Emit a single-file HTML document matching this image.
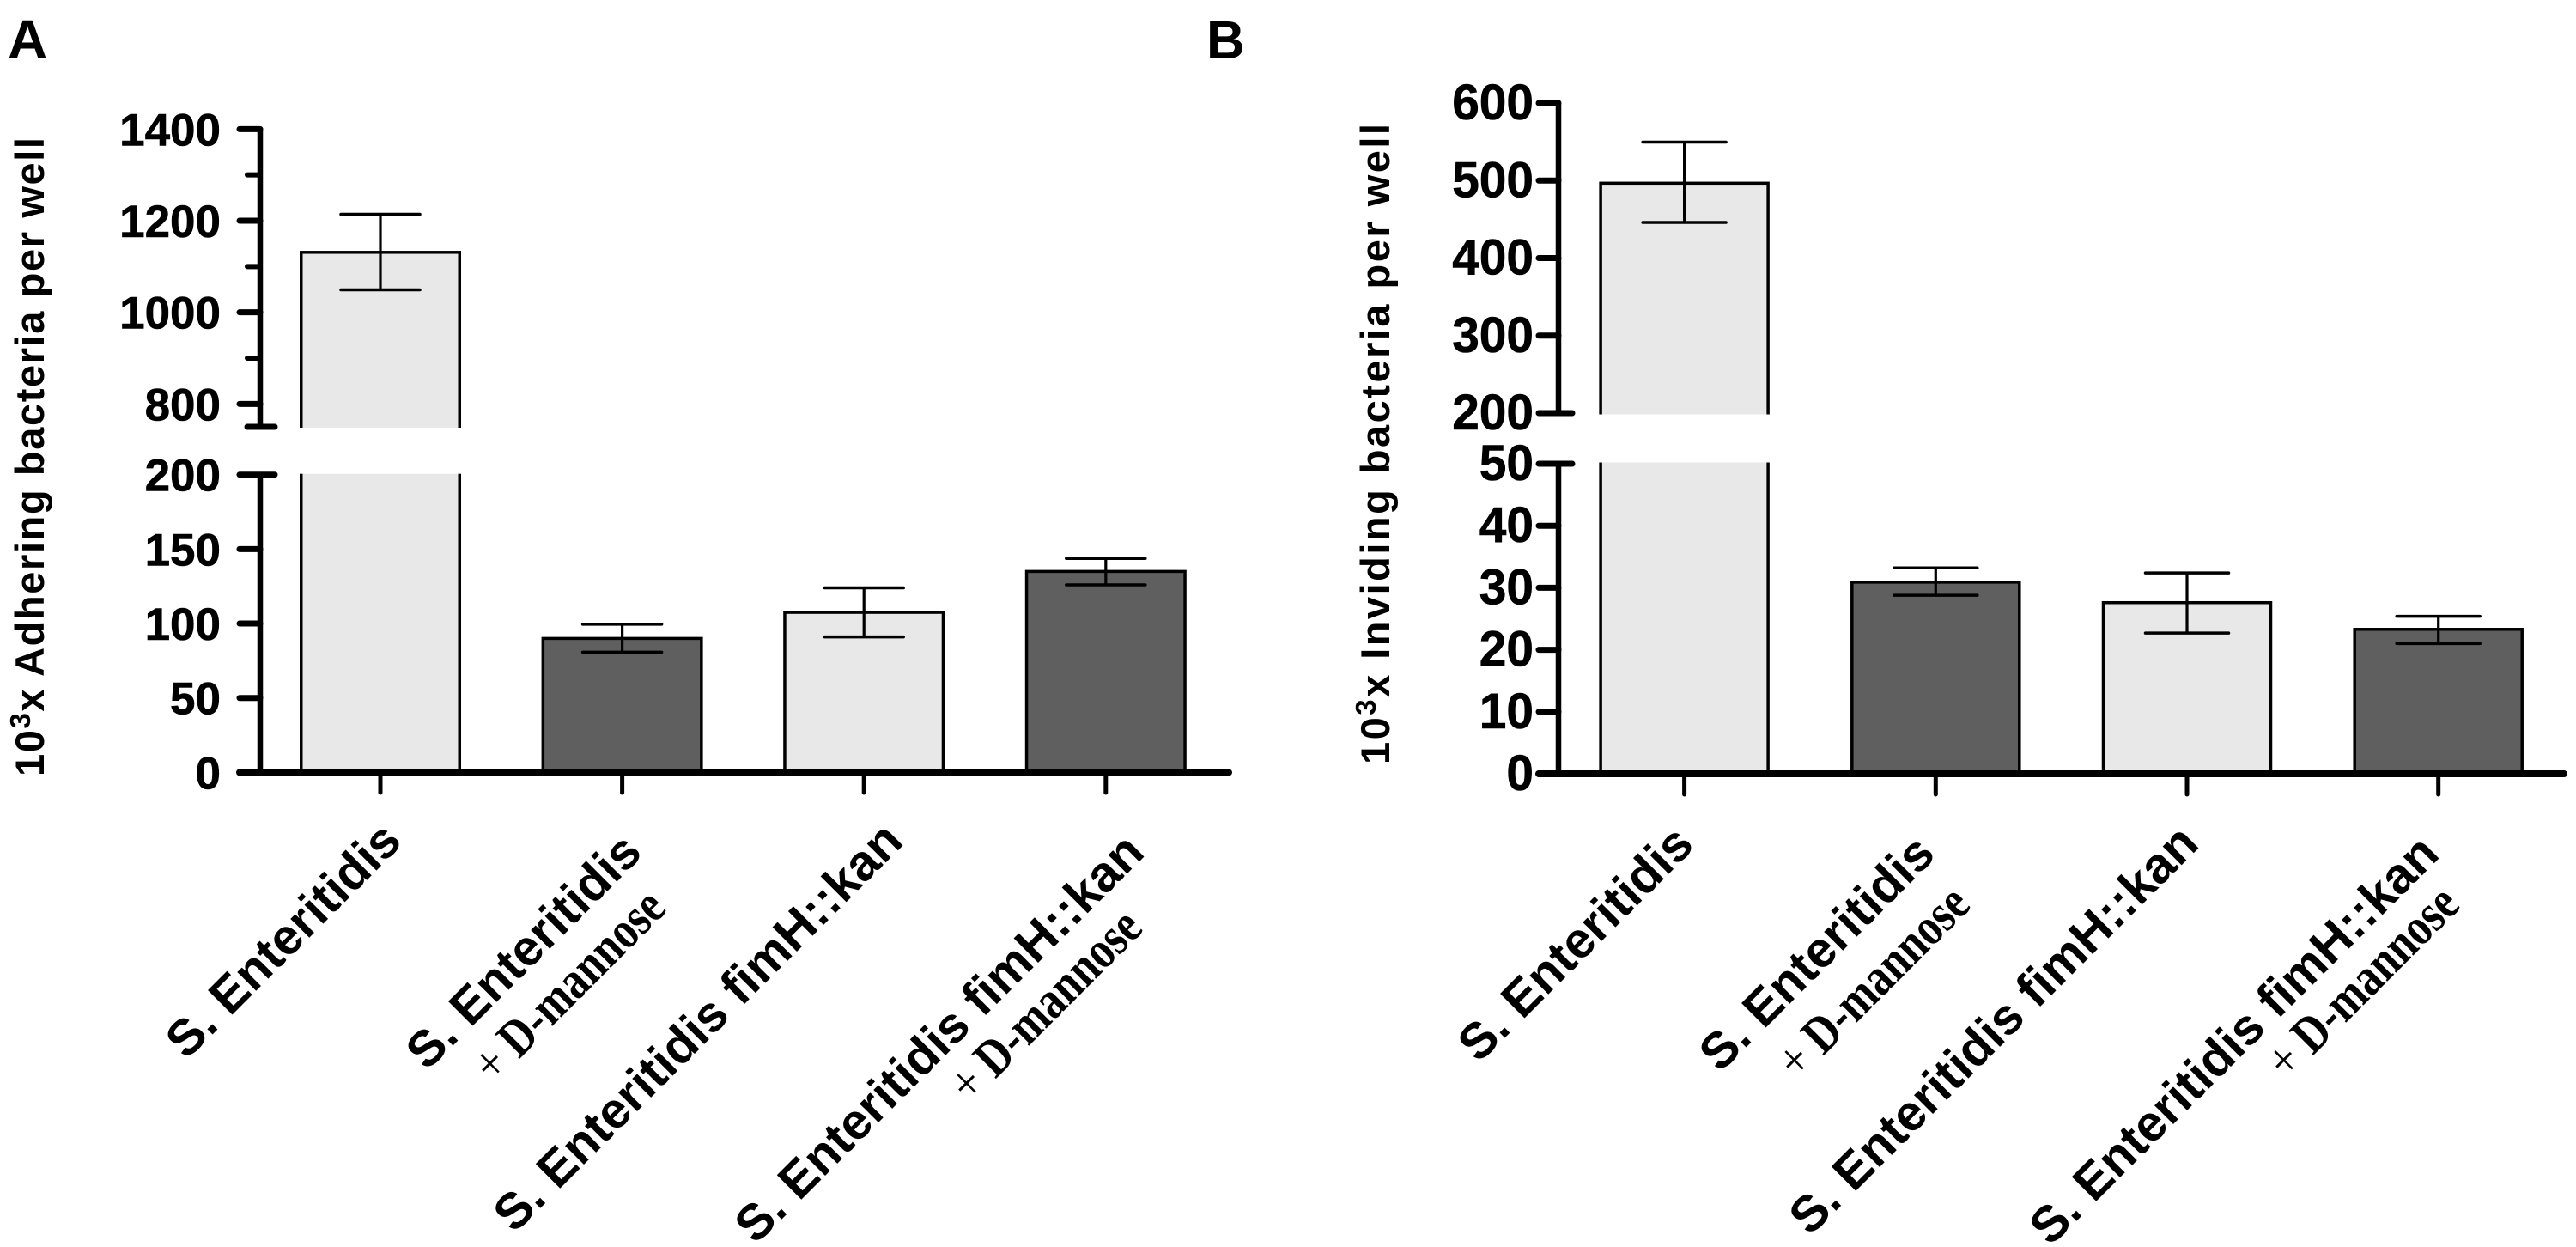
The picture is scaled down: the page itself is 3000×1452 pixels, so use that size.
<!DOCTYPE html>
<html lang="en">
<head>
<meta charset="utf-8">
<title>Adhering and invading bacteria per well</title>
<style>
html,body{margin:0;padding:0;background:#fff;}
svg{display:block;font-family:"Liberation Sans",sans-serif;}
text{fill:#000;font-weight:bold;}
</style>
</head>
<body>
<svg id="figure" xmlns="http://www.w3.org/2000/svg" width="3000" height="1452" viewBox="0 0 3000 1452">
  <rect x="0" y="0" width="3000" height="1452" fill="#ffffff"/>
  <text x="9" y="68" font-size="64">A</text>
  <text x="1405" y="68" font-size="62">B</text>
  <text transform="translate(51,904) rotate(-90)" font-size="47" textLength="744" lengthAdjust="spacing">10<tspan font-size="33" dy="-16">3</tspan><tspan dy="16">x Adhering bacteria per well</tspan></text>
  <text transform="translate(1618,890) rotate(-90)" font-size="47" textLength="746" lengthAdjust="spacing">10<tspan font-size="33" dy="-16">3</tspan><tspan dy="16">x Inviding bacteria per well</tspan></text>
  <g id="panel-a"></g>
  <g id="panel-b"></g>
  <g font-size="58.5">
    <text transform="translate(470,982) rotate(-45)" text-anchor="end">S. Enteritidis</text>
    <text transform="translate(750,995) rotate(-45)" text-anchor="end">S. Enteritidis</text>
    <text transform="translate(778,1060) rotate(-45) scale(0.82,1)" text-anchor="end" font-size="62" font-family="Liberation Serif"><tspan font-weight="normal">+</tspan> D-mannose</text>
    <text transform="translate(1054,982) rotate(-45)" text-anchor="end">S. Enteritidis fimH::kan</text>
    <text transform="translate(1335,995) rotate(-45)" text-anchor="end">S. Enteritidis fimH::kan</text>
    <text transform="translate(1333,1083) rotate(-45) scale(0.82,1)" text-anchor="end" font-size="62" font-family="Liberation Serif"><tspan font-weight="normal">+</tspan> D-mannose</text>
  </g>
  <g font-size="58.5">
    <text transform="translate(1975,986) rotate(-45)" text-anchor="end">S. Enteritidis</text>
    <text transform="translate(2256,997) rotate(-45)" text-anchor="end">S. Enteritidis</text>
    <text transform="translate(2297,1056) rotate(-45) scale(0.82,1)" text-anchor="end" font-size="62" font-family="Liberation Serif"><tspan font-weight="normal">+</tspan> D-mannose</text>
    <text transform="translate(2563,985) rotate(-45)" text-anchor="end">S. Enteritidis fimH::kan</text>
    <text transform="translate(2843,997) rotate(-45)" text-anchor="end">S. Enteritidis fimH::kan</text>
    <text transform="translate(2867,1056) rotate(-45) scale(0.82,1)" text-anchor="end" font-size="62" font-family="Liberation Serif"><tspan font-weight="normal">+</tspan> D-mannose</text>
  </g>
</svg>
<script>
// Panel A data
const aCategories = ["S. Enteritidis", "S. Enteritidis + D-mannose", "S. Enteritidis fimH::kan", "S. Enteritidis fimH::kan + D-mannose"];
const aMeans = [1131, 90, 107.5, 135];
const aErrHigh = [1214, 99.5, 124, 143.7];
const aErrLow = [1049, 80.8, 91, 126];
const aLowerTicks = [0, 50, 100, 150, 200];
const aUpperTicks = [800, 1000, 1200, 1400];
const aUpperMinor = [900, 1100, 1300];
const aBreakFrom = 200;
const aBreakTo = 750;

// Panel B data
const bCategories = ["S. Enteritidis", "S. Enteritidis + D-mannose", "S. Enteritidis fimH::kan", "S. Enteritidis fimH::kan + D-mannose"];
const bMeans = [496.6, 30.9, 27.6, 23.3];
const bErrHigh = [549.6, 33.2, 32.4, 25.4];
const bErrLow = [446, 28.8, 22.7, 21];
const bLowerTicks = [0, 10, 20, 30, 40, 50];
const bUpperTicks = [200, 300, 400, 500, 600];
const bUpperMinor = [];
const bBreakFrom = 50;
const bBreakTo = 200;

const barFills = ["#e8e8e8", "#5f5f5f", "#e8e8e8", "#5f5f5f"];
const NS = "http://www.w3.org/2000/svg";

function mk(parent, tag, attrs) {
  const el = document.createElementNS(NS, tag);
  for (const k in attrs) el.setAttribute(k, attrs[k]);
  parent.appendChild(el);
  return el;
}

function drawPanel(cfg) {
  const root = document.getElementById(cfg.id);
  const yScale = function (v) {
    if (v <= cfg.breakFrom) return cfg.y0 - (v / cfg.breakFrom) * (cfg.y0 - cfg.yBreakLow);
    return cfg.yBreakHigh - (v - cfg.breakTo) * cfg.upperScale;
  };
  const xScale = function (i) { return cfg.x0 + cfg.step * i; };
  const barW = cfg.barW;

  // Bars
  cfg.means.forEach(function (m, i) {
    const top = yScale(m);
    const bar = mk(root, "rect", {
      x: xScale(i) - barW / 2, y: top, width: barW, height: cfg.y0 - top,
      fill: barFills[i], stroke: "#000", "stroke-width": 3.5
    });
    
    
    if (m > cfg.breakFrom) {
      const gap = mk(root, "rect", {
        x: xScale(i) - barW / 2 - 6, y: cfg.yBreakHigh + cfg.gapPad, width: barW + 12,
        height: cfg.yBreakLow - cfg.yBreakHigh - 2 * cfg.gapPad, fill: "#fff"
      });
      
      
    }
  });

  // Error bars
  cfg.means.forEach(function (m, i) {
    const cx = xScale(i);
    const hi = yScale(cfg.errHigh[i]);
    const lo = yScale(cfg.errLow[i]);
    const stem = mk(root, "line", { x1: cx, x2: cx, y1: hi, y2: lo, stroke: "#000", "stroke-width": 3.2 });
    
    
    const capHi = mk(root, "line", { x1: cx - cfg.capW / 2, x2: cx + cfg.capW / 2, y1: hi, y2: hi, stroke: "#000", "stroke-width": 3.5, "stroke-linecap": "round" });
    
    
    const capLo = mk(root, "line", { x1: cx - cfg.capW / 2, x2: cx + cfg.capW / 2, y1: lo, y2: lo, stroke: "#000", "stroke-width": 3.5, "stroke-linecap": "round" });
    
    
  });

  // Y axis segments
  const upperTop = yScale(cfg.upperTicks[cfg.upperTicks.length - 1]);
  const axisUpper = mk(root, "line", { x1: cfg.axisX, x2: cfg.axisX, y1: upperTop, y2: cfg.yBreakHigh, stroke: "#000", "stroke-width": 6.5 });
  
  
  const axisLower = mk(root, "line", { x1: cfg.axisX, x2: cfg.axisX, y1: cfg.yBreakLow, y2: cfg.y0, stroke: "#000", "stroke-width": 6.5 });
  
  

  // Major ticks + labels
  cfg.lowerTicks.concat(cfg.upperTicks).forEach(function (t) {
    const y = yScale(t);
    const isBreakTick = t === cfg.breakFrom || t === cfg.breakTo;
    const tick = mk(root, "line", { x1: cfg.tickLeft, x2: isBreakTick ? cfg.breakRight : cfg.axisX, y1: y, y2: y, stroke: "#000", "stroke-width": 7, "stroke-linecap": "round" });
    
    
    const label = mk(root, "text", {
      transform: "translate(" + cfg.labelX + "," + (y + cfg.labelDy) + ") scale(" + cfg.labelSx + ",1)",
      "text-anchor": "end", "font-size": cfg.labelSize, stroke: "#000", "stroke-width": 0.6
    });
    label.textContent = String(t);
    
    
  });

  // Minor ticks
  cfg.upperMinor.forEach(function (t) {
    const y = yScale(t);
    const minor = mk(root, "line", { x1: cfg.minorLeft, x2: cfg.axisX, y1: y, y2: y, stroke: "#000", "stroke-width": 6, "stroke-linecap": "round" });
    
    
  });
  if (cfg.breakTickMinor) {
    const yb = cfg.yBreakHigh;
    const bt = mk(root, "line", { x1: cfg.minorLeft, x2: cfg.breakRight, y1: yb, y2: yb, stroke: "#000", "stroke-width": 7, "stroke-linecap": "round" });
    
    
  }

  // X axis
  const xAxis = mk(root, "line", { x1: cfg.tickLeft, x2: cfg.xEnd, y1: cfg.y0, y2: cfg.y0, stroke: "#000", "stroke-width": 8, "stroke-linecap": "round" });
  
  
  cfg.categories.forEach(function (c, i) {
    const xt = mk(root, "line", { x1: xScale(i), x2: xScale(i), y1: cfg.y0, y2: cfg.xTickEnd, stroke: "#000", "stroke-width": 5, "stroke-linecap": "round" });
    
    
  });
}

drawPanel({
  id: "panel-a", categories: aCategories, means: aMeans, errHigh: aErrHigh, errLow: aErrLow,
  lowerTicks: aLowerTicks, upperTicks: aUpperTicks, upperMinor: aUpperMinor,
  breakFrom: aBreakFrom, breakTo: aBreakTo,
  y0: 899.4, yBreakLow: 552.7, yBreakHigh: 497, upperScale: 0.5333, gapPad: 1,
  x0: 443, step: 281.6, barW: 184.5, capW: 92,
  axisX: 303, tickLeft: 279, minorLeft: 288, breakRight: 320, xEnd: 1431, xTickEnd: 923,
  labelX: 257, labelDy: 19, labelSize: 53, labelSx: 1.0, breakTickMinor: true
});
drawPanel({
  id: "panel-b", categories: bCategories, means: bMeans, errHigh: bErrHigh, errLow: bErrLow,
  lowerTicks: bLowerTicks, upperTicks: bUpperTicks, upperMinor: bUpperMinor,
  breakFrom: bBreakFrom, breakTo: bBreakTo,
  y0: 901, yBreakLow: 540, yBreakHigh: 481, upperScale: 0.9025, gapPad: 1.5,
  x0: 1961.6, step: 292.7, barW: 195, capW: 97,
  axisX: 1815, tickLeft: 1792, minorLeft: 1792, breakRight: 1831, xEnd: 2986, xTickEnd: 925,
  labelX: 1786, labelDy: 19, labelSize: 58, labelSx: 0.98, breakTickMinor: false
});
</script>
</body>
</html>
